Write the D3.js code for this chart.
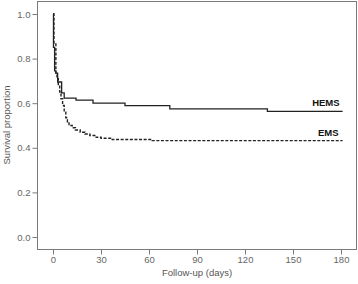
<!DOCTYPE html>
<html>
<head>
<meta charset="utf-8">
<script src="https://cdn.jsdelivr.net/npm/d3@7"></script>
<style>
  body { margin: 0; background: #fff; }
  text { font-family: "Liberation Sans", Arial, sans-serif; }
</style>
</head>
<body>
<div id="chart"></div>
<script>
// Kaplan-Meier steps: [day, survival]
const hemsTimes = [0, 0.3, 1, 1.8, 2.9, 5.4, 7, 14.4, 25, 45, 73, 134, 181];
const hemsSurv  = [1.0, 0.85, 0.745, 0.735, 0.695, 0.646, 0.623, 0.614, 0.60, 0.589, 0.575, 0.563, 0.563];
const emsTimes  = [0, 0.6, 1.8, 2.5, 3.3, 4.2, 5, 6, 7, 8, 9, 10, 12, 14, 17, 20, 23, 27, 30, 37, 62, 181];
const emsSurv   = [1.0, 0.87, 0.735, 0.71, 0.68, 0.65, 0.62, 0.59, 0.56, 0.535, 0.515, 0.50, 0.49, 0.48, 0.47, 0.462, 0.455, 0.447, 0.443, 0.437, 0.432, 0.432];
const xTicks = [0, 30, 60, 90, 120, 150, 180];
const yTicks = [0, 0.2, 0.4, 0.6, 0.8, 1.0];

const width = 358, height = 284;
const box = { left: 37, top: 1, right: 356, bottom: 249 };

const svg = d3.select("#chart").append("svg")
    .attr("width", width)
    .attr("height", height);

const x = d3.scaleLinear().domain([0, 180]).range([53, 341]);
const y = d3.scaleLinear().domain([0, 1]).range([237, 14]);

// frame
svg.append("rect")
    .attr("x", box.left + 0.5)
    .attr("y", box.top + 0.5)
    .attr("width", box.right - box.left)
    .attr("height", box.bottom - box.top)
    .attr("fill", "none")
    .attr("stroke", "#7a7a7a")
    .attr("stroke-width", 1);

const xAxis = svg.append("g")
    .attr("transform", `translate(0,${box.bottom + 0.5})`)
    .call(d3.axisBottom(x).tickValues(xTicks).tickSize(5).tickPadding(2).tickFormat(d3.format("d")));
const yAxis = svg.append("g")
    .attr("transform", `translate(${box.left + 0.5},0)`)
    .call(d3.axisLeft(y).tickValues(yTicks).tickSize(5).tickPadding(2).tickFormat(d3.format(".1f")));

[xAxis, yAxis].forEach(a => {
    a.select(".domain").remove();
    a.selectAll(".tick line").attr("stroke", "#7a7a7a");
    a.selectAll(".tick text")
        .attr("fill", "#666")
        .style("font-size", "9.5px")
        .style("font-family", "Liberation Sans, Arial, sans-serif");
});

svg.append("text")
    .attr("x", 197)
    .attr("y", 276)
    .attr("text-anchor", "middle")
    .attr("fill", "#555")
    .style("font-size", "9.5px")
    .text("Follow-up (days)");

svg.append("text")
    .attr("transform", "translate(10,125) rotate(-90)")
    .attr("text-anchor", "middle")
    .attr("fill", "#555")
    .style("font-size", "9.5px")
    .text("Survival proportion");

const line = d3.line()
    .x(d => x(d[0]))
    .y(d => y(d[1]))
    .curve(d3.curveStepAfter);

const hems = d3.zip(hemsTimes, hemsSurv);
const ems = d3.zip(emsTimes, emsSurv);

svg.append("path")
    .datum(ems)
    .attr("d", line)
    .attr("fill", "none")
    .attr("stroke", "#222")
    .attr("stroke-width", 1.4)
    .attr("stroke-dasharray", "3,1.6");

svg.append("path")
    .datum(hems)
    .attr("d", line)
    .attr("fill", "none")
    .attr("stroke", "#222")
    .attr("stroke-width", 1.3);

svg.append("text")
    .attr("x", x(181) - 3)
    .attr("y", y(hemsSurv[hemsSurv.length - 1]) - 5)
    .attr("text-anchor", "end")
    .attr("fill", "#111")
    .style("font-size", "9.5px")
    .style("font-weight", "bold")
    .text("HEMS");

svg.append("text")
    .attr("x", x(181) - 4)
    .attr("y", y(emsSurv[emsSurv.length - 1]) - 5)
    .attr("text-anchor", "end")
    .attr("fill", "#111")
    .style("font-size", "9.5px")
    .style("font-weight", "bold")
    .text("EMS");
</script>
</body>
</html>
